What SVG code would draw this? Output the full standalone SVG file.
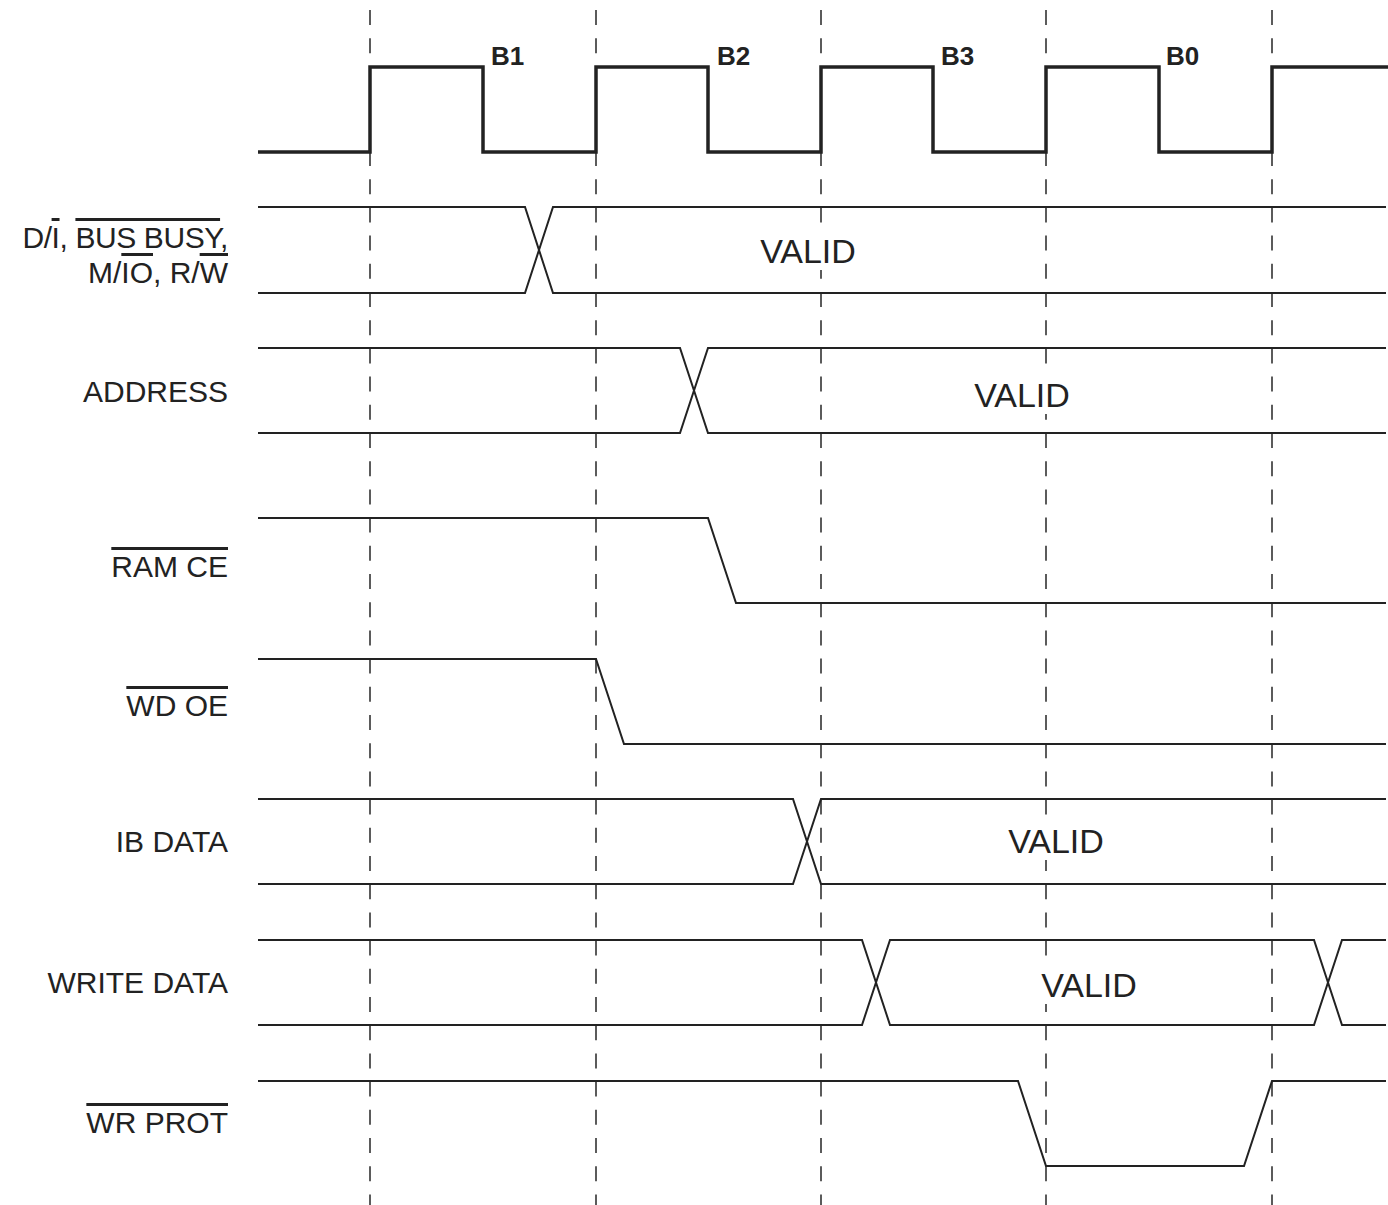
<svg xmlns="http://www.w3.org/2000/svg" width="1388" height="1205" viewBox="0 0 1388 1205">
<style>
.lbl{font-family:"Liberation Sans",Arial,sans-serif;font-size:30px;fill:#222;text-anchor:end}
.valid{font-family:"Liberation Sans",Arial,sans-serif;font-size:34px;fill:#222;text-anchor:middle}
.mask{fill:#fff}
.clk{font-family:"Liberation Sans",Arial,sans-serif;font-size:26px;font-weight:bold;fill:#222}
.ov{text-decoration:overline}
.sig{fill:none;stroke:#222;stroke-width:2;stroke-linejoin:miter}
.clock{fill:none;stroke:#222;stroke-width:3.5;stroke-linejoin:miter}
.grid line{stroke:#333;stroke-width:1.6;stroke-dasharray:15 13.2}
</style>
<rect width="1388" height="1205" fill="#fff"/>
<g id="connectors" class="grid">
<line x1="370" y1="10" x2="370" y2="1205"/>
<line x1="596" y1="10" x2="596" y2="1205"/>
<line x1="821" y1="10" x2="821" y2="1205"/>
<line x1="1046" y1="10" x2="1046" y2="1205"/>
<line x1="1272" y1="10" x2="1272" y2="1205"/>
</g>
<g id="clock">
<polyline class="clock" points="258,152 370,152 370,67 483,67 483,152 596,152 596,67 708,67 708,152 821,152 821,67 933,67 933,152 1046,152 1046,67 1159,67 1159,152 1272,152 1272,67 1388,67"/>
<text class="clk" x="491" y="65">B1</text>
<text class="clk" x="717" y="65">B2</text>
<text class="clk" x="941" y="65">B3</text>
<text class="clk" x="1166" y="65">B0</text>
</g>
<g id="sig-status">
<text class="lbl" x="228" y="248" letter-spacing="-0.4">D/<tspan class="ov">I</tspan>, <tspan class="ov">BUS BUSY</tspan>,</text>
<text class="lbl" x="228" y="283">M/<tspan class="ov">IO</tspan>, R/<tspan class="ov">W</tspan></text>
<polyline class="sig" points="258,207 525,207 553,293 1386,293"/>
<polyline class="sig" points="258,293 525,293 553,207 1386,207"/>
<rect class="mask" x="756" y="232" width="104" height="38"/>
<text class="valid" x="808" y="263">VALID</text>
</g>
<g id="sig-address">
<text class="lbl" x="228" y="402">ADDRESS</text>
<polyline class="sig" points="258,348 680,348 708,433 1386,433"/>
<polyline class="sig" points="258,433 680,433 708,348 1386,348"/>
<rect class="mask" x="970" y="376" width="104" height="38"/>
<text class="valid" x="1022" y="407">VALID</text>
</g>
<g id="sig-ramce">
<text class="lbl" x="228" y="577"><tspan class="ov">RAM CE</tspan></text>
<polyline class="sig" points="258,518 708,518 736,603 1386,603"/>
</g>
<g id="sig-wdoe">
<text class="lbl" x="228" y="716"><tspan class="ov">WD OE</tspan></text>
<polyline class="sig" points="258,659 596,659 624,744 1386,744"/>
</g>
<g id="sig-ibdata">
<text class="lbl" x="228" y="852">IB DATA</text>
<polyline class="sig" points="258,799 793,799 821,884 1386,884"/>
<polyline class="sig" points="258,884 793,884 821,799 1386,799"/>
<rect class="mask" x="1004" y="822" width="104" height="38"/>
<text class="valid" x="1056" y="853">VALID</text>
</g>
<g id="sig-writedata">
<text class="lbl" x="228" y="993">WRITE DATA</text>
<polyline class="sig" points="258,940 862,940 890,1025 1314,1025 1342,940 1386,940"/>
<polyline class="sig" points="258,1025 862,1025 890,940 1314,940 1342,1025 1386,1025"/>
<rect class="mask" x="1037" y="966" width="104" height="38"/>
<text class="valid" x="1089" y="997">VALID</text>
</g>
<g id="sig-wrprot">
<text class="lbl" x="228" y="1133"><tspan class="ov">WR PROT</tspan></text>
<polyline class="sig" points="258,1081 1018,1081 1046,1166 1244,1166 1272,1081 1386,1081"/>
</g>
</svg>
